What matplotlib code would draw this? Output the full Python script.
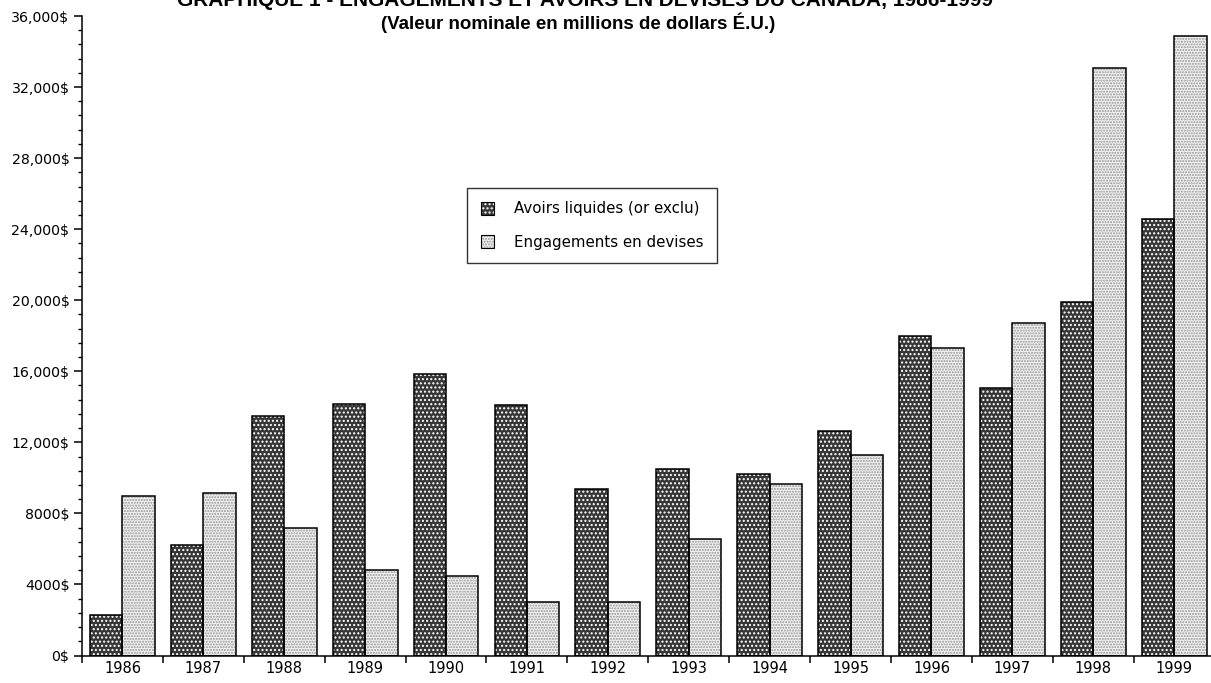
import matplotlib
matplotlib.use('Agg')
import matplotlib.pyplot as plt
from matplotlib.patches import Patch
from matplotlib.ticker import MultipleLocator, FixedLocator, NullFormatter
import numpy as np

# Canada, assets and liabilities in foreign currency (US$ millions)
years = ['1986', '1987', '1988', '1989', '1990', '1991', '1992',
         '1993', '1994', '1995', '1996', '1997', '1998', '1999']
avoirs = [2300, 6200, 13500, 14150, 15850, 14100, 9400,
          10500, 10200, 12650, 17980, 15080, 19900, 24580]
engagements = [9000, 9150, 7200, 4800, 4450, 3000, 3000,
               6550, 9650, 11300, 17300, 18720, 33080, 34850]
ytick_vals = [0, 4000, 8000, 12000, 16000, 20000, 24000, 28000, 32000, 36000]
ytick_text = ['0$', '4000$', '8000$', '12,000$', '16,000$', '20,000$',
              '24,000$', '28,000$', '32,000$', '36,000$']

dark_face, dark_dots = '#363636', '#ffffff'
light_face, light_dots = '#f2f2f2', '#959595'

plt.rcParams['font.family'] = 'DejaVu Sans'
plt.rcParams['hatch.linewidth'] = 1.0

fig = plt.figure(figsize=(12.11, 6.83), dpi=100)
ax = fig.add_axes([82 / 1211, 1 - 655.5 / 683, 1132.6 / 1211, (655.5 - 16) / 683])

x = np.arange(len(years))
w = 0.4

# dotted fill first, black outline on top
ax.bar(x - w / 2, avoirs, w, color=dark_face, hatch='....', edgecolor=dark_dots, linewidth=0)
ax.bar(x + w / 2, engagements, w, color=light_face, hatch='......', edgecolor=light_dots, linewidth=0)
ax.bar(x - w / 2, avoirs, w, fill=False, edgecolor='black', linewidth=1.1)
ax.bar(x + w / 2, engagements, w, fill=False, edgecolor='black', linewidth=1.1)

ax.set_xlim(-0.5, len(years) - 0.5)
ax.set_ylim(0, 36000)

for side in ['top', 'right']:
    ax.spines[side].set_visible(False)
for side in ['left', 'bottom']:
    ax.spines[side].set_linewidth(1.1)

ax.set_yticks(ytick_vals)
ax.set_yticklabels(ytick_text, fontsize=10.2)
ax.yaxis.set_minor_locator(MultipleLocator(800))
ax.tick_params(axis='y', which='major', length=6, width=1.1, pad=3)
ax.tick_params(axis='y', which='minor', length=3, width=1.0)

# tick marks between year groups, year labels centred under groups
ax.xaxis.set_major_locator(FixedLocator(np.arange(len(years) + 1) - 0.5))
ax.xaxis.set_major_formatter(NullFormatter())
ax.xaxis.set_minor_locator(FixedLocator(x))
ax.set_xticklabels(years, minor=True, fontsize=10.5)
ax.tick_params(axis='x', which='major', length=5, width=1.1)
ax.tick_params(axis='x', which='minor', length=0, pad=4)

handles = [(Patch(facecolor=dark_face, hatch='....', edgecolor=dark_dots, linewidth=0),
            Patch(fill=False, edgecolor='black', linewidth=0.8)),
           (Patch(facecolor=light_face, hatch='......', edgecolor=light_dots, linewidth=0),
            Patch(fill=False, edgecolor='black', linewidth=0.8))]
leg = fig.legend(handles, ['Avoirs liquides (or exclu)', 'Engagements en devises'],
                 loc='upper left', bbox_to_anchor=(467 / 1211, 1 - 188 / 683),
                 fontsize=10.8, frameon=True, fancybox=False, shadow=False,
                 handlelength=0.9, handleheight=0.9, handletextpad=1.3,
                 labelspacing=1.2, borderpad=0.9, borderaxespad=0)
leg.get_frame().set_edgecolor('black')
leg.get_frame().set_linewidth(1.0)

fig.text(0.483, 1 - 6 / 683,
         'GRAPHIQUE 1 - ENGAGEMENTS ET AVOIRS EN DEVISES DU CANADA, 1986-1999',
         ha='center', va='baseline', fontsize=15, fontweight='bold',
         family='Liberation Sans')
fig.text(0.477, 1 - 29 / 683, '(Valeur nominale en millions de dollars É.U.)',
         ha='center', va='baseline', fontsize=13.5, fontweight='bold',
         family='Liberation Sans')

fig.savefig('out.png', dpi=100)
